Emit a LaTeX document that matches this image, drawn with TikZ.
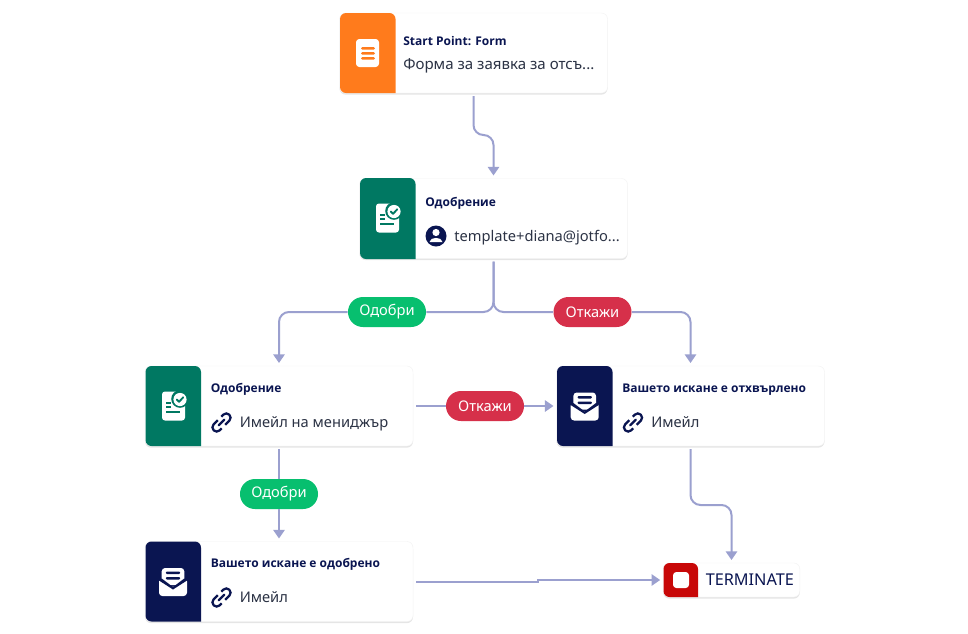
\documentclass[tikz,border=0pt]{standalone}
\usepackage{fontspec}
\setmainfont{Noto Sans}
\newfontfamily\ttlfont{Open Sans}
\usetikzlibrary{shadows,arrows.meta,calc}
\definecolor{navy}{HTML}{0A1551}
\definecolor{bodyc}{HTML}{2C3345}
\definecolor{edge}{HTML}{9BA0CF}
\definecolor{orangeS}{HTML}{FF7B1C}
\definecolor{greenS}{HTML}{007862}
\definecolor{redS}{HTML}{C80808}
\definecolor{pillG}{HTML}{07BF6F}
\definecolor{pillR}{HTML}{D6304A}
\tikzset{
 x=0.75pt,y=-0.75pt,
 card/.style={draw=black!5,line width=0.3pt,fill=white,rounded corners=4.5pt,minimum width=201pt,minimum height=60pt,inner sep=0pt,outer sep=2.25pt,
   drop shadow={shadow xshift=0pt,shadow yshift=-1.2pt,fill=black,opacity=.10}},
 termcard/.style={card,minimum width=102.5pt,minimum height=25.5pt},
 conn/.style={draw=edge,line width=1.5pt,rounded corners=7.5pt},
 arr/.style={-{Triangle[length=6.5pt,width=8.5pt]}},
 pill/.style={rounded corners=11.2pt,minimum width=58.5pt,minimum height=22.5pt,inner sep=0pt,text=white,font=\fontsize{11pt}{13pt}\selectfont},
 pg/.style={pill,fill=pillG},
 pr/.style={pill,fill=pillR},
 ttl/.style={anchor=base west,inner sep=0pt,text=navy,font=\ttlfont\fontsize{9pt}{11pt}\selectfont\bfseries},
 sub/.style={anchor=base west,inner sep=0pt,text=bodyc,font=\fontsize{11pt}{13pt}\selectfont},
}
\newcommand{\stripeB}[4]{% x, y, height, colour: sharp right, round left
 \fill[#4,rounded corners=4.5pt] (#1+55.5,#2) [sharp corners] -- (#1+55.5,#2+#3) [rounded corners=4.5pt] -- (#1,#2+#3) -- (#1,#2) -- cycle;}
\newcommand{\approval}[2]{% centre x,y
 \begin{scope}[shift={(#1,#2)}]
 \fill[white,rounded corners=2.2pt] (-11.5,-14.5) rectangle (11.5,14.5);
 \fill[greenS] (6.5,-7) circle (8.8);
 \fill[greenS] (6.5,-15) rectangle (12,-8);
 \fill[white] (6.5,-6.5) circle (6.6);
 \draw[greenS,line width=1.4pt,line cap=round,line join=round] (3.3,-6.5) -- (5.6,-4.2) -- (9.8,-8.8);
 \fill[greenS] (-7.5,-4.2) rectangle (-3,-2.2);
 \fill[greenS] (-7.5,0) rectangle (-3,2);
 \fill[greenS] (-7.5,4.8) rectangle (6.5,7);
 \end{scope}}
\newcommand{\envelope}[2]{% centre x,y
 \begin{scope}[shift={(#1,#2)}]
 \fill[white,rounded corners=2.5pt] (-14,-4) -- (0,6) -- (14,-4) -- (14,14) -- (-14,14) -- cycle;
 \fill[white,rounded corners=2.5pt] (-11.3,-14) rectangle (11.3,3);
 \fill[navy] (-14,-3.5) -- (-11.3,-3.5) -- (0,5) -- (11.3,-3.5) -- (14,-3.5) -- (14,-1.5) -- (0,7.5) -- (-14,-1.5) -- cycle;
 \fill[navy,rounded corners=0.8pt] (-7.2,-10.5) rectangle (7.2,-8);
 \fill[navy,rounded corners=0.8pt] (-7.2,-5) rectangle (7.2,-2.5);
 \end{scope}}
\newcommand{\linkicon}[2]{% centre x,y
 \begin{scope}[shift={(#1,#2)},rotate=45]
 \draw[navy,line width=1.7pt,rounded corners=3pt] (-1,-4.2) -- (-11,-4.2) -- (-11,4.2) -- (-4,4.2);
 \draw[navy,line width=1.7pt,rounded corners=3pt] (1,4.2) -- (11,4.2) -- (11,-4.2) -- (4,-4.2);
 \draw[navy,line width=1.7pt,line cap=round] (-4,0) -- (4,0);
 \end{scope}}
\begin{document}
\begin{tikzpicture}
\useasboundingbox[fill=white] (0,0) rectangle (968,633);

% cards
\node[card] (c1) at (473.5,53) {};
\node[card] (c2) at (493.5,218.5) {};
\node[card] (c3) at (279,406) {};
\node[card] (c4) at (690.5,406) {};
\node[card] (c5) at (279,581.5) {};
\node[termcard] (t) at (731.5,580) {};

% colour strips
\stripeB{340}{13}{80}{orangeS}
\stripeB{360}{178}{81}{greenS}
\stripeB{145.5}{366}{80}{greenS}
\stripeB{557}{366}{80}{navy}
\stripeB{145.5}{541.5}{80}{navy}
\fill[redS,rounded corners=4.5pt] (698,563) [sharp corners] -- (698,597) [rounded corners=4.5pt] -- (663.5,597) -- (663.5,563) -- cycle;

% icons
\fill[white,rounded corners=2.5pt] (356,39) rectangle (379,67);
\fill[orangeS,rounded corners=1pt] (361,47) rectangle (375,49.6);
\fill[orangeS,rounded corners=1pt] (361,52) rectangle (375,54.6);
\fill[orangeS,rounded corners=1pt] (361,57) rectangle (375,59.6);
\approval{387.5}{218}
\approval{173.5}{406}
\envelope{584.7}{406.5}
\envelope{173}{582}
\fill[white,rounded corners=2.5pt] (673,572) rectangle (689,588);

% user icon
\fill[navy] (436,236) circle (10.5);
\fill[white] (436,232.5) circle (3.6);
\fill[white] (429.5,242) .. controls (430,236.5) and (442,236.5) .. (442.5,242) -- cycle;
\linkicon{221.5}{422.5}
\linkicon{633}{422.5}
\linkicon{221.5}{597.5}

% texts
\node[ttl] (t1) at (403,45) {Start Point: Form};
\node[sub,font=\fontsize{11.3pt}{13pt}\selectfont] (s1) at (403,69.5) {Форма за заявка за отсъ...};
\node[ttl] (t2) at (425,206) {Одобрение};
\node[sub] (s2) at (454,241) {template+diana@jotfo...};
\node[ttl] (t3) at (210.5,392) {Одобрение};
\node[sub] (s3) at (239.5,427.5) {Имейл на мениджър};
\node[ttl] (t4) at (622,392) {Вашето искане е отхвърлено};
\node[sub] (s4) at (651,427.5) {Имейл};
\node[ttl] (t5) at (210.5,567) {Вашето искане е одобрено};
\node[sub] (s5) at (239.5,602.5) {Имейл};
\node[anchor=base west,inner sep=0pt,text=navy,font=\fontsize{12.2pt}{13pt}\selectfont] (t6) at (705.5,585.5) {TERMINATE};

% label pills
\node[pg] (pa) at (387,312) {Одобри};
\node[pr] (pb) at (592.5,312) {Откажи};
\node[pr] (pc) at (485,406) {Откажи};
\node[pg] (pd) at (279,494) {Одобри};

% helper points
\coordinate (bend1) at (0,135);
\coordinate (bend2) at (0,505);
\coordinate (step) at (538,580);

% connectors
\draw[conn,arr] (c1.south) |- (c2.north |- bend1) -- (c2.north);
\draw[conn] (c2.south) |- (pa.east);
\draw[conn] (c2.south) |- (pb.west);
\draw[conn,arr] (pa.west) -| (c3.north);
\draw[conn,arr] (pb.east) -| (c4.north);
\draw[conn] (c3.east) -- (pc.west);
\draw[conn,arr] (pc.east) -- (c4.west);
\draw[conn] (c3.south) -- (pd.north);
\draw[conn,arr] (pd.south) -- (c5.north);
\draw[conn,arr,rounded corners=0pt] (c5.east) -- (step |- c5.east) -- (step) -- (t.west);
\draw[conn,arr] (c4.south) |- (t.north |- bend2) -- (t.north);
\end{tikzpicture}
\end{document}
